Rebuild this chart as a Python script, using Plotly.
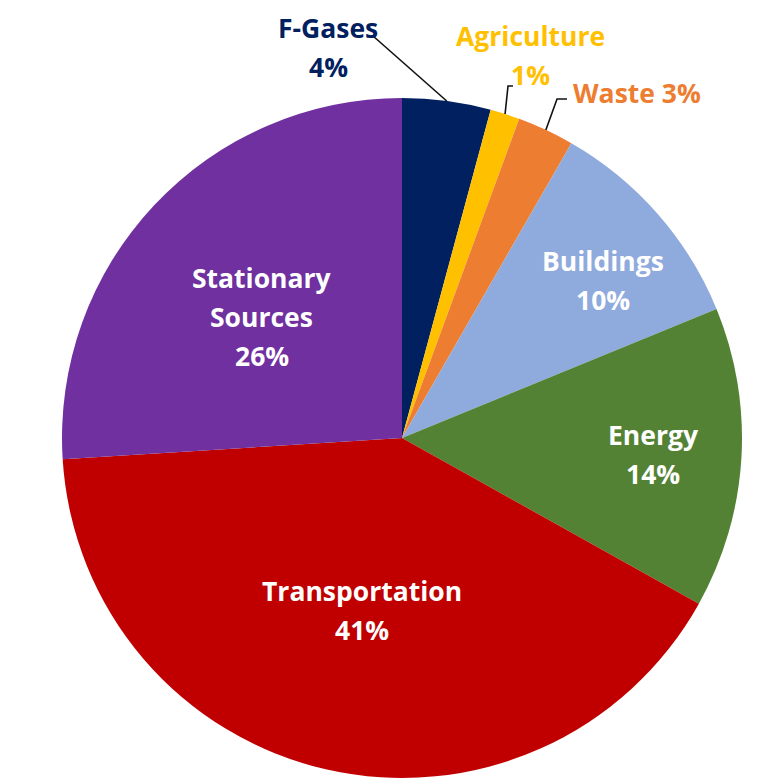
import math
import plotly.graph_objects as go

# ---- data ----
categories = ["F-Gases", "Agriculture", "Waste", "Buildings", "Energy",
              "Transportation", "Stationary Sources"]
values = [4.2, 1.4, 2.7, 10.5, 14.3, 40.9, 26.0]
pct_labels = ["4%", "1%", "3%", "10%", "14%", "41%", "26%"]
label_lines = [["F-Gases", "4%"], ["Agriculture", "1%"], ["Waste 3%"],
               ["Buildings", "10%"], ["Energy", "14%"],
               ["Transportation", "41%"], ["Stationary", "Sources", "26%"]]
colors = ["#002060", "#FFC000", "#ED7D31", "#8FAADC", "#548235",
          "#C00000", "#7030A0"]

# ---- layout geometry (page pixels) ----
W, H = 778, 780
OFF = 8  # page body margin
CX, CY, R = 402, 438, 340
FONT = "Open Sans"
FS = 26.5
LINE_H = 39


def px(x):
    return (x - OFF) / W


def py(y):
    return 1 - (y - OFF) / H


fig = go.Figure(go.Pie(
    labels=categories, values=values, sort=False, direction="clockwise",
    rotation=0, textinfo="none", hoverinfo="label+percent",
    marker=dict(colors=colors, line=dict(width=0)),
    domain=dict(x=[px(CX - R), px(CX + R)], y=[py(CY + R), py(CY - R)]),
    showlegend=False,
))

# mid angles (clockwise from 12 o'clock)
total = sum(values)
mids = []
acc = 0
for v in values:
    mids.append((acc + v / 2) / total * 2 * math.pi)
    acc += v


def edge_point(i, rfrac, dang=0.0):
    a = mids[i] + math.radians(dang)
    return CX + R * rfrac * math.sin(a), CY - R * rfrac * math.cos(a)


annotations = []


def add_label(lines, x, y, color):
    n = len(lines)
    for k, t in enumerate(lines):
        annotations.append(dict(
            x=px(x), y=py(y), xref="paper", yref="paper", text="<b>%s</b>" % t,
            showarrow=False, xanchor="center", yanchor="middle",
            yshift=((n - 1) / 2 - k) * LINE_H,
            font=dict(family=FONT, size=FS, color=color)))


# inside labels: (radius fraction, angle offset in degrees) per slice
inside = {3: (0.75, 3.2), 4: (0.74, 0.4), 5: (0.52, 0.3), 6: (0.545, -2.4)}
for i, (rf, da) in inside.items():
    x, y = edge_point(i, rf, da)
    add_label(label_lines[i], x, y, "white")

# outside labels (text positions in pixels) and leader line elbows
outside = {
    0: dict(text=(328, 47), path=[(373, 36)]),
    1: dict(text=(530, 55), path=[(508, 86), (513, 86)]),
    2: dict(text=(637, 93), path=[(557, 99), (567, 99)]),
}
shapes = []
for i, o in outside.items():
    add_label(label_lines[i], o["text"][0], o["text"][1], colors[i])
    pts = [edge_point(i, 1.0)] + o["path"]
    d = "M " + " L ".join("%.4f,%.4f" % (px(a), py(b)) for a, b in pts)
    shapes.append(dict(type="path", path=d, xref="paper", yref="paper",
                       line=dict(color="#111111", width=1.6)))

fig.update_layout(
    width=W, height=H, margin=dict(l=0, r=0, t=0, b=0),
    paper_bgcolor="white", plot_bgcolor="white",
    annotations=annotations, shapes=shapes,
)

fig.write_html("out.html")
